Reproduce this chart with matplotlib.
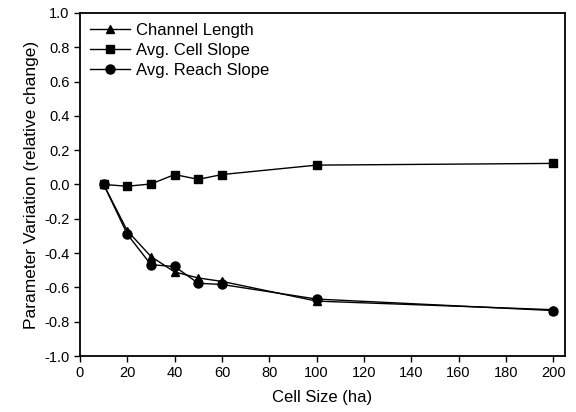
import matplotlib
matplotlib.use('Agg')
import matplotlib.pyplot as plt

plt.rcParams['font.family'] = ['Liberation Sans', 'DejaVu Sans']

# data
cell_size = [10, 20, 30, 40, 50, 60, 100, 200]
channel_length = [0.0, -0.27, -0.42, -0.51, -0.545, -0.565, -0.68, -0.73]
cell_slope = [0.0, -0.01, 0.003, 0.058, 0.03, 0.058, 0.113, 0.123]
reach_slope = [0.0, -0.29, -0.468, -0.478, -0.576, -0.583, -0.668, -0.735]

xticks = [0, 20, 40, 60, 80, 100, 120, 140, 160, 180, 200]
yticks = [-1.0, -0.8, -0.6, -0.4, -0.2, 0.0, 0.2, 0.4, 0.6, 0.8, 1.0]

fig = plt.figure(figsize=(5.76, 4.12), dpi=100)
ax = fig.add_axes([80 / 576, 1 - 356 / 412, (565 - 80) / 576, (356 - 13) / 412])

ax.plot(cell_size, channel_length, color='black', lw=1, marker='^', ms=6, label='Channel Length')
ax.plot(cell_size, cell_slope, color='black', lw=1, marker='s', ms=5.5, label='Avg. Cell Slope')
ax.plot(cell_size, reach_slope, color='black', lw=1, marker='o', ms=6.5, label='Avg. Reach Slope')

ax.set_xlim(0, 205)
ax.set_ylim(-1.0, 1.0)
ax.set_xticks(xticks)
ax.set_yticks(yticks)
ax.set_yticklabels(['%.1f' % v for v in yticks])
ax.tick_params(direction='out', length=4, width=1, labelsize=10.5, colors='black')
for s in ax.spines.values():
    s.set_linewidth(1.3)

ax.set_xlabel('Cell Size (ha)', fontsize=12, labelpad=7)
ax.set_ylabel('Parameter Variation (relative change)', fontsize=12.5, labelpad=4)

ax.legend(loc='upper left', frameon=False, fontsize=12, handlelength=2.4,
          borderaxespad=0.2, labelspacing=0.3, handletextpad=0.35)

fig.savefig('out.png', dpi=100)
